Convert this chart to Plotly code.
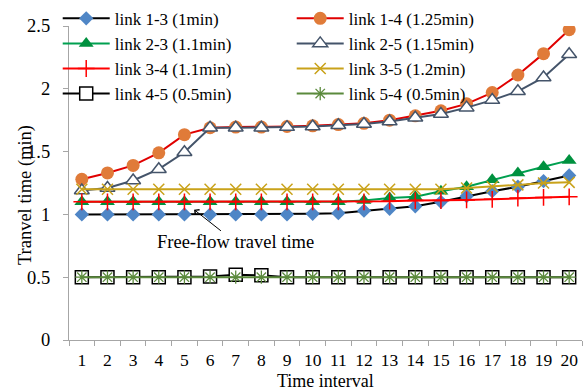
import plotly.graph_objects as go

# Time intervals (category axis)
intervals = [str(i) for i in range(1, 21)]

# Travel time per link (min)
link_1_3 = [1.00, 1.00, 1.00, 1.00, 1.00, 1.00, 1.00, 1.00, 1.00, 1.005,
            1.01, 1.03, 1.045, 1.065, 1.10, 1.145, 1.185, 1.22, 1.265, 1.31]
link_1_4 = [1.28, 1.33, 1.39, 1.49, 1.635, 1.69, 1.695, 1.695, 1.70, 1.705,
            1.715, 1.725, 1.75, 1.785, 1.825, 1.88, 1.97, 2.11, 2.28, 2.47]
link_2_3 = [1.10, 1.10, 1.10, 1.10, 1.10, 1.10, 1.10, 1.10, 1.10, 1.10,
            1.10, 1.11, 1.13, 1.14, 1.185, 1.22, 1.275, 1.33, 1.38, 1.43]
link_2_5 = [1.19, 1.21, 1.27, 1.36, 1.495, 1.69, 1.69, 1.69, 1.695, 1.70,
            1.71, 1.72, 1.74, 1.77, 1.80, 1.85, 1.91, 1.98, 2.09, 2.275]
link_3_4 = [1.10, 1.10, 1.10, 1.10, 1.10, 1.10, 1.10, 1.10, 1.10, 1.10,
            1.10, 1.10, 1.105, 1.11, 1.11, 1.115, 1.12, 1.13, 1.135, 1.14]
link_3_5 = [1.20, 1.20, 1.20, 1.20, 1.20, 1.20, 1.20, 1.20, 1.20, 1.20,
            1.20, 1.20, 1.20, 1.20, 1.20, 1.21, 1.22, 1.235, 1.25, 1.255]
link_4_5 = [0.50, 0.50, 0.50, 0.50, 0.50, 0.505, 0.52, 0.515, 0.50, 0.50,
            0.50, 0.50, 0.50, 0.50, 0.50, 0.50, 0.50, 0.50, 0.50, 0.50]
link_5_4 = [0.50] * 20

y_ticks = [0, 0.5, 1, 1.5, 2, 2.5]
y_tick_labels = ["0", "0.5", "1", "1.5", "2", "2.5"]

FONT = "Liberation Serif"
FS = 18.5

series = [
    ("link 1-3 (1min)", link_1_3, "#000000", dict(symbol="diamond", size=11, color="#4F86C6", line=dict(width=0))),
    ("link 1-4 (1.25min)", link_1_4, "#E00000", dict(symbol="circle", size=13, color="#E07B39", line=dict(width=0))),
    ("link 2-3 (1.1min)", link_2_3, "#00A050", dict(symbol="triangle-up", size=13, color="#00913F", line=dict(width=0))),
    ("link 2-5 (1.15min)", link_2_5, "#44546A", dict(symbol="triangle-up", size=13, color="#FFFFFF", line=dict(width=1.5, color="#44546A"))),
    ("link 3-4 (1.1min)", link_3_4, "#FF0000", dict(symbol="cross-thin-open", size=12, color="#FF0000", line=dict(width=1.5, color="#FF0000"))),
    ("link 3-5 (1.2min)", link_3_5, "#C9A21A", dict(symbol="x-thin-open", size=11, color="#C9A21A", line=dict(width=1.5, color="#C9A21A"))),
    ("link 4-5 (0.5min)", link_4_5, "#000000", dict(symbol="square", size=13, color="#FFFFFF", line=dict(width=1.5, color="#000000"))),
    ("link 5-4 (0.5min)", link_5_4, "#5B8A3C", dict(symbol="asterisk-open", size=11, color="#5B8A3C", line=dict(width=1.3, color="#5B8A3C"))),
]

fig = go.Figure()
for name, vals, lcolor, mk in series:
    fig.add_trace(go.Scatter(
        x=intervals, y=vals, name=name, mode="lines+markers",
        line=dict(color=lcolor, width=2), marker=mk,
    ))

axis_grey = "#A6A6A6"

fig.update_layout(
    width=584, height=390,
    margin=dict(l=69, r=2, t=25, b=50),
    paper_bgcolor="white", plot_bgcolor="white",
    font=dict(family=FONT, size=FS, color="black"),
    showlegend=True,
    legend=dict(
        orientation="h", x=-0.022, xanchor="left", y=1.077, yanchor="top",
        entrywidth=172, entrywidthmode="pixels", itemwidth=47,
        bgcolor="rgba(0,0,0,0)", font=dict(family=FONT, size=17),
        traceorder="normal", tracegroupgap=0,
    ),
    xaxis=dict(
        type="category", range=[-0.5, 19.5],
        showline=True, linecolor=axis_grey, linewidth=1.3,
        ticks="outside", tickson="boundaries", ticklen=5, tickcolor=axis_grey,
        showgrid=False, zeroline=False, ticklabelstandoff=4, tickangle=0,
        tickfont=dict(family=FONT, size=17.5, color="black"),
    ),
    yaxis=dict(
        range=[0, 2.5], tickvals=y_ticks, ticktext=y_tick_labels,
        showline=True, linecolor=axis_grey, linewidth=1.3,
        ticks="outside", ticklen=5, tickcolor=axis_grey,
        showgrid=False, zeroline=False, ticklabelstandoff=9,
        tickfont=dict(family=FONT, size=FS, color="black"),
    ),
)

# Axis titles
fig.add_annotation(
    text="Time interval", xref="paper", yref="paper", x=0.5, y=-0.130,
    xanchor="center", yanchor="middle", showarrow=False,
    font=dict(family=FONT, size=18),
)
fig.add_annotation(
    text="Tranvel time (min)", textangle=-90,
    xref="paper", yref="paper", x=-0.0848, y=0.463,
    xanchor="center", yanchor="middle", showarrow=False,
    font=dict(family=FONT, size=FS),
)

# Label with arrow pointing at the free-flow level
fig.add_annotation(
    text="Free-flow travel time", xref="x", yref="y", x=4.375, y=1.038,
    ax=41.5, ay=32.7, showarrow=True,
    arrowhead=4, arrowsize=1.3, arrowwidth=1, arrowcolor="black",
    font=dict(family=FONT, size=FS),
)

fig.write_html("out.html")
